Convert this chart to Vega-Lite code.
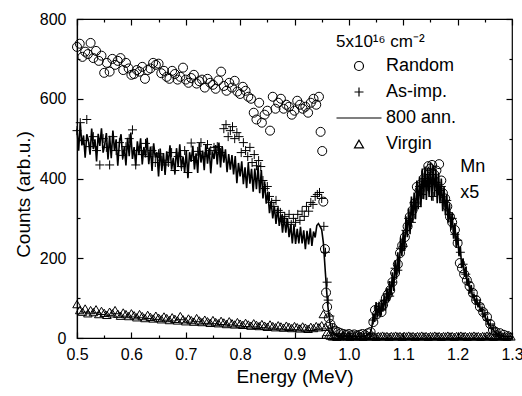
{
  "$schema": "https://vega.github.io/schema/vega-lite/v6.json",
  "width": 435,
  "height": 319,
  "autosize": "none",
  "padding": {"left": 77, "top": 19, "right": 10, "bottom": 58},
  "config": {
    "font": "Liberation Sans",
    "view": {"stroke": "black", "strokeWidth": 1.2},
    "axis": {"domainColor": "black", "domainWidth": 1.2, "tickColor": "black", "tickWidth": 1.2, "labelColor": "black", "titleColor": "black", "labelFontSize": 16, "titleFontSize": 19, "titleFontWeight": "normal", "grid": false}
  },
  "datasets": {
    "rnd": [{"e":0.500,"c":730},{"e":0.505,"c":738},{"e":0.510,"c":705},{"e":0.515,"c":718},{"e":0.520,"c":712},{"e":0.525,"c":740},{"e":0.530,"c":702},{"e":0.535,"c":720},{"e":0.540,"c":695},{"e":0.545,"c":708},{"e":0.550,"c":665},{"e":0.555,"c":690},{"e":0.560,"c":668},{"e":0.565,"c":700},{"e":0.570,"c":685},{"e":0.575,"c":695},{"e":0.580,"c":702},{"e":0.585,"c":672},{"e":0.590,"c":690},{"e":0.595,"c":676},{"e":0.600,"c":660},{"e":0.605,"c":662},{"e":0.610,"c":672},{"e":0.615,"c":668},{"e":0.620,"c":680},{"e":0.625,"c":650},{"e":0.630,"c":672},{"e":0.635,"c":676},{"e":0.640,"c":690},{"e":0.645,"c":685},{"e":0.650,"c":688},{"e":0.655,"c":664},{"e":0.660,"c":670},{"e":0.665,"c":655},{"e":0.670,"c":650},{"e":0.675,"c":670},{"e":0.680,"c":662},{"e":0.685,"c":648},{"e":0.690,"c":655},{"e":0.695,"c":678},{"e":0.700,"c":648},{"e":0.705,"c":640},{"e":0.710,"c":652},{"e":0.715,"c":660},{"e":0.720,"c":638},{"e":0.725,"c":644},{"e":0.730,"c":648},{"e":0.735,"c":628},{"e":0.740,"c":650},{"e":0.745,"c":640},{"e":0.750,"c":635},{"e":0.755,"c":625},{"e":0.760,"c":646},{"e":0.765,"c":668},{"e":0.770,"c":632},{"e":0.775,"c":620},{"e":0.780,"c":640},{"e":0.785,"c":628},{"e":0.790,"c":645},{"e":0.795,"c":618},{"e":0.800,"c":612},{"e":0.805,"c":630},{"e":0.810,"c":620},{"e":0.815,"c":605},{"e":0.820,"c":600},{"e":0.825,"c":565},{"e":0.830,"c":548},{"e":0.835,"c":590},{"e":0.840,"c":540},{"e":0.845,"c":560},{"e":0.850,"c":570},{"e":0.855,"c":520},{"e":0.860,"c":605},{"e":0.865,"c":575},{"e":0.870,"c":590},{"e":0.875,"c":600},{"e":0.880,"c":575},{"e":0.885,"c":585},{"e":0.890,"c":580},{"e":0.895,"c":560},{"e":0.900,"c":570},{"e":0.905,"c":595},{"e":0.910,"c":585},{"e":0.915,"c":575},{"e":0.920,"c":580},{"e":0.925,"c":565},{"e":0.930,"c":590},{"e":0.935,"c":600},{"e":0.940,"c":585},{"e":0.945,"c":605},{"e":0.948,"c":517},{"e":0.951,"c":469},{"e":0.953,"c":342},{"e":0.956,"c":223},{"e":0.958,"c":114},{"e":0.960,"c":78},{"e":0.963,"c":50},{"e":0.966,"c":35},{"e":0.970,"c":25},{"e":0.975,"c":18},{"e":0.980,"c":15},{"e":0.985,"c":12},{"e":0.990,"c":10},{"e":0.995,"c":8},{"e":1.000,"c":10},{"e":1.005,"c":7},{"e":1.010,"c":9},{"e":1.015,"c":6},{"e":1.020,"c":8},{"e":1.025,"c":10},{"e":1.030,"c":7},{"e":1.035,"c":12},{"e":1.040,"c":15},{"e":1.045,"c":40},{"e":1.048,"c":70},{"e":1.052,"c":60},{"e":1.055,"c":75},{"e":1.060,"c":65},{"e":1.063,"c":83},{"e":1.068,"c":100},{"e":1.072,"c":110},{"e":1.076,"c":120},{"e":1.080,"c":140},{"e":1.085,"c":163},{"e":1.090,"c":185},{"e":1.094,"c":213},{"e":1.098,"c":232},{"e":1.103,"c":253},{"e":1.108,"c":280},{"e":1.112,"c":304},{"e":1.117,"c":320},{"e":1.121,"c":338},{"e":1.125,"c":379},{"e":1.130,"c":370},{"e":1.134,"c":388},{"e":1.138,"c":400},{"e":1.142,"c":415},{"e":1.146,"c":431},{"e":1.150,"c":425},{"e":1.153,"c":434},{"e":1.157,"c":410},{"e":1.161,"c":420},{"e":1.166,"c":436},{"e":1.170,"c":395},{"e":1.173,"c":363},{"e":1.177,"c":350},{"e":1.181,"c":330},{"e":1.186,"c":304},{"e":1.190,"c":290},{"e":1.195,"c":271},{"e":1.200,"c":238},{"e":1.204,"c":188},{"e":1.208,"c":175},{"e":1.212,"c":160},{"e":1.217,"c":145},{"e":1.222,"c":130},{"e":1.228,"c":113},{"e":1.234,"c":95},{"e":1.241,"c":78},{"e":1.247,"c":65},{"e":1.254,"c":53},{"e":1.260,"c":35},{"e":1.265,"c":20},{"e":1.270,"c":15},{"e":1.278,"c":12},{"e":1.285,"c":8},{"e":1.292,"c":5}],
    "asi": [{"e":0.500,"c":520},{"e":0.506,"c":540},{"e":0.512,"c":495},{"e":0.518,"c":548},{"e":0.524,"c":480},{"e":0.530,"c":505},{"e":0.536,"c":470},{"e":0.542,"c":434},{"e":0.548,"c":500},{"e":0.554,"c":478},{"e":0.560,"c":434},{"e":0.566,"c":505},{"e":0.572,"c":470},{"e":0.578,"c":490},{"e":0.584,"c":458},{"e":0.590,"c":480},{"e":0.596,"c":500},{"e":0.602,"c":522},{"e":0.608,"c":434},{"e":0.614,"c":470},{"e":0.620,"c":460},{"e":0.626,"c":488},{"e":0.632,"c":455},{"e":0.638,"c":470},{"e":0.644,"c":440},{"e":0.650,"c":462},{"e":0.656,"c":446},{"e":0.662,"c":434},{"e":0.668,"c":440},{"e":0.674,"c":465},{"e":0.680,"c":420},{"e":0.686,"c":455},{"e":0.692,"c":430},{"e":0.698,"c":470},{"e":0.704,"c":415},{"e":0.710,"c":489},{"e":0.716,"c":445},{"e":0.722,"c":468},{"e":0.728,"c":490},{"e":0.734,"c":455},{"e":0.740,"c":485},{"e":0.746,"c":470},{"e":0.752,"c":478},{"e":0.758,"c":480},{"e":0.764,"c":465},{"e":0.770,"c":525},{"e":0.774,"c":535},{"e":0.778,"c":505},{"e":0.782,"c":520},{"e":0.786,"c":530},{"e":0.790,"c":500},{"e":0.794,"c":515},{"e":0.798,"c":505},{"e":0.802,"c":465},{"e":0.806,"c":490},{"e":0.810,"c":470},{"e":0.814,"c":455},{"e":0.818,"c":478},{"e":0.822,"c":440},{"e":0.826,"c":460},{"e":0.830,"c":432},{"e":0.834,"c":445},{"e":0.838,"c":430},{"e":0.842,"c":395},{"e":0.846,"c":375},{"e":0.850,"c":380},{"e":0.854,"c":355},{"e":0.858,"c":340},{"e":0.862,"c":330},{"e":0.866,"c":345},{"e":0.870,"c":320},{"e":0.874,"c":315},{"e":0.878,"c":300},{"e":0.882,"c":305},{"e":0.886,"c":290},{"e":0.890,"c":310},{"e":0.894,"c":285},{"e":0.898,"c":300},{"e":0.902,"c":290},{"e":0.906,"c":310},{"e":0.910,"c":295},{"e":0.914,"c":318},{"e":0.918,"c":305},{"e":0.922,"c":330},{"e":0.926,"c":318},{"e":0.930,"c":340},{"e":0.934,"c":335},{"e":0.938,"c":355},{"e":0.942,"c":360},{"e":0.946,"c":365},{"e":0.950,"c":350},{"e":0.954,"c":280},{"e":0.957,"c":215},{"e":0.960,"c":140},{"e":0.962,"c":95},{"e":0.965,"c":55},{"e":0.970,"c":25},{"e":0.980,"c":10},{"e":0.990,"c":5},{"e":1.000,"c":5},{"e":1.020,"c":4},{"e":1.040,"c":10},{"e":1.045,"c":45},{"e":1.050,"c":60},{"e":1.055,"c":80},{"e":1.060,"c":70},{"e":1.065,"c":95},{"e":1.070,"c":110},{"e":1.075,"c":105},{"e":1.080,"c":140},{"e":1.085,"c":175},{"e":1.090,"c":170},{"e":1.095,"c":225},{"e":1.100,"c":230},{"e":1.105,"c":270},{"e":1.110,"c":300},{"e":1.115,"c":290},{"e":1.120,"c":340},{"e":1.125,"c":330},{"e":1.130,"c":380},{"e":1.135,"c":360},{"e":1.140,"c":400},{"e":1.145,"c":380},{"e":1.150,"c":410},{"e":1.155,"c":355},{"e":1.160,"c":390},{"e":1.165,"c":370},{"e":1.170,"c":380},{"e":1.175,"c":340},{"e":1.180,"c":345},{"e":1.185,"c":310},{"e":1.190,"c":300},{"e":1.195,"c":260},{"e":1.200,"c":245},{"e":1.205,"c":215},{"e":1.210,"c":185},{"e":1.215,"c":160},{"e":1.220,"c":140},{"e":1.225,"c":120},{"e":1.230,"c":105},{"e":1.235,"c":95},{"e":1.240,"c":85},{"e":1.245,"c":70},{"e":1.250,"c":60},{"e":1.255,"c":45},{"e":1.260,"c":35},{"e":1.265,"c":25},{"e":1.270,"c":15},{"e":1.275,"c":8},{"e":1.280,"c":5}],
    "ann": [{"e":0.500,"c":525},{"e":0.503,"c":470},{"e":0.506,"c":539},{"e":0.509,"c":483},{"e":0.512,"c":508},{"e":0.515,"c":452},{"e":0.518,"c":511},{"e":0.521,"c":496},{"e":0.524,"c":460},{"e":0.527,"c":525},{"e":0.530,"c":474},{"e":0.533,"c":498},{"e":0.536,"c":443},{"e":0.539,"c":512},{"e":0.542,"c":482},{"e":0.545,"c":526},{"e":0.548,"c":465},{"e":0.551,"c":485},{"e":0.554,"c":514},{"e":0.557,"c":448},{"e":0.560,"c":507},{"e":0.563,"c":451},{"e":0.566,"c":520},{"e":0.569,"c":469},{"e":0.572,"c":498},{"e":0.575,"c":432},{"e":0.578,"c":491},{"e":0.581,"c":511},{"e":0.584,"c":450},{"e":0.587,"c":479},{"e":0.590,"c":433},{"e":0.593,"c":502},{"e":0.596,"c":456},{"e":0.599,"c":515},{"e":0.602,"c":449},{"e":0.605,"c":479},{"e":0.608,"c":433},{"e":0.611,"c":493},{"e":0.614,"c":462},{"e":0.617,"c":501},{"e":0.620,"c":435},{"e":0.623,"c":479},{"e":0.626,"c":453},{"e":0.629,"c":502},{"e":0.632,"c":436},{"e":0.635,"c":480},{"e":0.638,"c":419},{"e":0.641,"c":488},{"e":0.644,"c":452},{"e":0.647,"c":466},{"e":0.650,"c":405},{"e":0.653,"c":475},{"e":0.656,"c":419},{"e":0.659,"c":464},{"e":0.662,"c":409},{"e":0.665,"c":468},{"e":0.668,"c":438},{"e":0.671,"c":483},{"e":0.674,"c":422},{"e":0.677,"c":452},{"e":0.680,"c":412},{"e":0.683,"c":476},{"e":0.686,"c":431},{"e":0.689,"c":486},{"e":0.692,"c":425},{"e":0.695,"c":455},{"e":0.698,"c":415},{"e":0.701,"c":470},{"e":0.704,"c":401},{"e":0.707,"c":466},{"e":0.710,"c":442},{"e":0.713,"c":482},{"e":0.716,"c":423},{"e":0.719,"c":463},{"e":0.722,"c":414},{"e":0.725,"c":489},{"e":0.728,"c":440},{"e":0.731,"c":470},{"e":0.734,"c":421},{"e":0.737,"c":486},{"e":0.740,"c":437},{"e":0.743,"c":477},{"e":0.746,"c":413},{"e":0.749,"c":468},{"e":0.752,"c":449},{"e":0.755,"c":484},{"e":0.758,"c":435},{"e":0.761,"c":490},{"e":0.764,"c":428},{"e":0.767,"c":481},{"e":0.770,"c":440},{"e":0.773,"c":473},{"e":0.776,"c":416},{"e":0.779,"c":461},{"e":0.782,"c":422},{"e":0.785,"c":459},{"e":0.788,"c":410},{"e":0.791,"c":456},{"e":0.794,"c":388},{"e":0.797,"c":439},{"e":0.800,"c":405},{"e":0.803,"c":443},{"e":0.806,"c":386},{"e":0.809,"c":428},{"e":0.812,"c":376},{"e":0.815,"c":439},{"e":0.818,"c":387},{"e":0.821,"c":424},{"e":0.824,"c":367},{"e":0.827,"c":425},{"e":0.830,"c":373},{"e":0.833,"c":430},{"e":0.836,"c":363},{"e":0.839,"c":421},{"e":0.842,"c":350},{"e":0.845,"c":393},{"e":0.848,"c":337},{"e":0.851,"c":367},{"e":0.854,"c":313},{"e":0.857,"c":344},{"e":0.860,"c":300},{"e":0.863,"c":331},{"e":0.866,"c":286},{"e":0.869,"c":327},{"e":0.872,"c":281},{"e":0.875,"c":310},{"e":0.878,"c":264},{"e":0.881,"c":304},{"e":0.884,"c":264},{"e":0.887,"c":301},{"e":0.890,"c":253},{"e":0.893,"c":285},{"e":0.896,"c":237},{"e":0.899,"c":283},{"e":0.902,"c":236},{"e":0.905,"c":274},{"e":0.908,"c":237},{"e":0.911,"c":279},{"e":0.914,"c":237},{"e":0.917,"c":270},{"e":0.920,"c":223},{"e":0.923,"c":269},{"e":0.926,"c":235},{"e":0.929,"c":275},{"e":0.932,"c":231},{"e":0.935,"c":267},{"e":0.938,"c":252},{"e":0.941,"c":282},{"e":0.944,"c":287},{"e":0.947,"c":280},{"e":0.950,"c":272},{"e":0.953,"c":240},{"e":0.955,"c":200},{"e":0.957,"c":160},{"e":0.959,"c":120},{"e":0.961,"c":85},{"e":0.963,"c":60},{"e":0.965,"c":40},{"e":0.968,"c":22},{"e":0.971,"c":12},{"e":0.975,"c":8},{"e":0.980,"c":5},{"e":0.985,"c":6},{"e":0.990,"c":4},{"e":0.995,"c":5},{"e":1.000,"c":3},{"e":1.010,"c":4},{"e":1.020,"c":3},{"e":1.030,"c":5},{"e":1.035,"c":8},{"e":1.040,"c":15},{"e":1.0425,"c":30},{"e":1.045,"c":60},{"e":1.0475,"c":40},{"e":1.050,"c":90},{"e":1.0525,"c":51},{"e":1.055,"c":87},{"e":1.0575,"c":53},{"e":1.060,"c":95},{"e":1.0625,"c":66},{"e":1.065,"c":107},{"e":1.0675,"c":69},{"e":1.070,"c":125},{"e":1.0725,"c":89},{"e":1.075,"c":143},{"e":1.0775,"c":106},{"e":1.080,"c":165},{"e":1.0825,"c":118},{"e":1.085,"c":195},{"e":1.0875,"c":148},{"e":1.090,"c":215},{"e":1.0925,"c":164},{"e":1.095,"c":252},{"e":1.0975,"c":206},{"e":1.100,"c":270},{"e":1.1025,"c":218},{"e":1.105,"c":305},{"e":1.1075,"c":253},{"e":1.110,"c":325},{"e":1.1125,"c":260},{"e":1.115,"c":355},{"e":1.1175,"c":290},{"e":1.120,"c":365},{"e":1.1225,"c":298},{"e":1.125,"c":395},{"e":1.1275,"c":323},{"e":1.130,"c":405},{"e":1.1325,"c":328},{"e":1.135,"c":425},{"e":1.1375,"c":348},{"e":1.140,"c":430},{"e":1.1425,"c":346},{"e":1.145,"c":427},{"e":1.1475,"c":354},{"e":1.150,"c":440},{"e":1.1525,"c":344},{"e":1.155,"c":433},{"e":1.1575,"c":356},{"e":1.160,"c":425},{"e":1.1625,"c":338},{"e":1.165,"c":415},{"e":1.1675,"c":338},{"e":1.170,"c":400},{"e":1.1725,"c":318},{"e":1.175,"c":380},{"e":1.1775,"c":308},{"e":1.180,"c":360},{"e":1.1825,"c":289},{"e":1.185,"c":338},{"e":1.1875,"c":271},{"e":1.190,"c":315},{"e":1.1925,"c":249},{"e":1.195,"c":288},{"e":1.1975,"c":226},{"e":1.200,"c":265},{"e":1.2025,"c":205},{"e":1.205,"c":230},{"e":1.2075,"c":175},{"e":1.210,"c":200},{"e":1.2125,"c":154},{"e":1.215,"c":178},{"e":1.2175,"c":131},{"e":1.220,"c":150},{"e":1.2225,"c":111},{"e":1.225,"c":133},{"e":1.2275,"c":99},{"e":1.230,"c":110},{"e":1.2325,"c":85},{"e":1.235,"c":100},{"e":1.2375,"c":77},{"e":1.240,"c":88},{"e":1.2425,"c":66},{"e":1.245,"c":76},{"e":1.2475,"c":55},{"e":1.250,"c":61},{"e":1.2525,"c":43},{"e":1.255,"c":49},{"e":1.2575,"c":31},{"e":1.260,"c":35},{"e":1.2625,"c":20},{"e":1.265,"c":25},{"e":1.2675,"c":16},{"e":1.270,"c":12},{"e":1.275,"c":8},{"e":1.280,"c":5},{"e":1.290,"c":3},{"e":1.300,"c":3}],
    "vir": [{"e":0.500,"c":85},{"e":0.505,"c":70},{"e":0.510,"c":66},{"e":0.515,"c":74},{"e":0.520,"c":62},{"e":0.525,"c":70},{"e":0.530,"c":65},{"e":0.535,"c":72},{"e":0.540,"c":60},{"e":0.545,"c":68},{"e":0.550,"c":63},{"e":0.555,"c":58},{"e":0.560,"c":66},{"e":0.565,"c":62},{"e":0.570,"c":70},{"e":0.575,"c":61},{"e":0.580,"c":56},{"e":0.585,"c":64},{"e":0.590,"c":60},{"e":0.595,"c":55},{"e":0.600,"c":62},{"e":0.605,"c":57},{"e":0.610,"c":52},{"e":0.615,"c":60},{"e":0.620,"c":55},{"e":0.625,"c":50},{"e":0.630,"c":58},{"e":0.635,"c":53},{"e":0.640,"c":49},{"e":0.645,"c":56},{"e":0.650,"c":51},{"e":0.655,"c":47},{"e":0.660,"c":54},{"e":0.665,"c":50},{"e":0.670,"c":45},{"e":0.675,"c":52},{"e":0.680,"c":48},{"e":0.685,"c":44},{"e":0.690,"c":55},{"e":0.695,"c":47},{"e":0.700,"c":42},{"e":0.705,"c":49},{"e":0.710,"c":45},{"e":0.715,"c":41},{"e":0.720,"c":50},{"e":0.725,"c":44},{"e":0.730,"c":40},{"e":0.735,"c":46},{"e":0.740,"c":42},{"e":0.745,"c":38},{"e":0.750,"c":45},{"e":0.755,"c":40},{"e":0.760,"c":37},{"e":0.765,"c":43},{"e":0.770,"c":39},{"e":0.775,"c":35},{"e":0.780,"c":42},{"e":0.785,"c":37},{"e":0.790,"c":34},{"e":0.795,"c":40},{"e":0.800,"c":36},{"e":0.805,"c":33},{"e":0.810,"c":38},{"e":0.815,"c":34},{"e":0.820,"c":31},{"e":0.825,"c":37},{"e":0.830,"c":33},{"e":0.835,"c":30},{"e":0.840,"c":35},{"e":0.845,"c":31},{"e":0.850,"c":28},{"e":0.855,"c":34},{"e":0.860,"c":30},{"e":0.865,"c":27},{"e":0.870,"c":32},{"e":0.875,"c":29},{"e":0.880,"c":26},{"e":0.885,"c":31},{"e":0.890,"c":28},{"e":0.895,"c":25},{"e":0.900,"c":30},{"e":0.905,"c":27},{"e":0.910,"c":24},{"e":0.915,"c":29},{"e":0.920,"c":26},{"e":0.925,"c":23},{"e":0.930,"c":28},{"e":0.935,"c":25},{"e":0.940,"c":30},{"e":0.945,"c":27},{"e":0.950,"c":32},{"e":0.953,"c":60},{"e":0.957,"c":28},{"e":0.960,"c":15},{"e":0.963,"c":8},{"e":0.966,"c":6},{"e":0.970,"c":4},{"e":0.974,"c":5},{"e":0.978,"c":3},{"e":0.982,"c":5},{"e":0.986,"c":4},{"e":0.990,"c":6},{"e":0.994,"c":4},{"e":0.998,"c":5},{"e":1.002,"c":3},{"e":1.006,"c":5},{"e":1.010,"c":4},{"e":1.014,"c":6},{"e":1.018,"c":4},{"e":1.022,"c":5},{"e":1.026,"c":3},{"e":1.030,"c":5},{"e":1.034,"c":4},{"e":1.038,"c":6},{"e":1.042,"c":4},{"e":1.046,"c":5},{"e":1.050,"c":3},{"e":1.054,"c":5},{"e":1.058,"c":4},{"e":1.062,"c":6},{"e":1.066,"c":4},{"e":1.070,"c":5},{"e":1.074,"c":3},{"e":1.078,"c":5},{"e":1.082,"c":4},{"e":1.086,"c":6},{"e":1.090,"c":4},{"e":1.094,"c":5},{"e":1.098,"c":3},{"e":1.102,"c":5},{"e":1.106,"c":4},{"e":1.110,"c":6},{"e":1.114,"c":4},{"e":1.118,"c":5},{"e":1.122,"c":3},{"e":1.126,"c":5},{"e":1.130,"c":4},{"e":1.134,"c":6},{"e":1.138,"c":4},{"e":1.142,"c":5},{"e":1.146,"c":3},{"e":1.150,"c":5},{"e":1.154,"c":4},{"e":1.158,"c":6},{"e":1.162,"c":4},{"e":1.166,"c":5},{"e":1.170,"c":3},{"e":1.174,"c":5},{"e":1.178,"c":4},{"e":1.182,"c":6},{"e":1.186,"c":4},{"e":1.190,"c":5},{"e":1.194,"c":3},{"e":1.198,"c":5},{"e":1.202,"c":4},{"e":1.206,"c":6},{"e":1.210,"c":4},{"e":1.214,"c":5},{"e":1.218,"c":3},{"e":1.222,"c":5},{"e":1.226,"c":4},{"e":1.230,"c":6},{"e":1.234,"c":4},{"e":1.238,"c":5},{"e":1.242,"c":3},{"e":1.246,"c":5},{"e":1.250,"c":4},{"e":1.254,"c":6},{"e":1.258,"c":4},{"e":1.262,"c":5},{"e":1.266,"c":3},{"e":1.270,"c":5},{"e":1.274,"c":4},{"e":1.278,"c":6},{"e":1.282,"c":4},{"e":1.286,"c":5},{"e":1.290,"c":3},{"e":1.294,"c":5},{"e":1.298,"c":4}],
    "txt": [{"e":1.205,"c":429,"t":"Mn"},{"e":1.205,"c":364,"t":"x5"}]
  },
  "layer": [
    {
      "data": {"name": "rnd"},
      "mark": {"type": "point", "filled": false, "stroke": "black", "strokeWidth": 1, "size": 81, "opacity": 1},
      "encoding": {
        "x": {"field": "e", "type": "quantitative", "scale": {"domain": [0.5, 1.3], "nice": false, "zero": false},
          "axis": {"orient": "bottom", "title": "Energy (MeV)", "values": [0.5,0.55,0.6,0.65,0.7,0.75,0.8,0.85,0.9,0.95,1,1.05,1.1,1.15,1.2,1.25,1.3],
            "labelExpr": "abs(datum.value*10-round(datum.value*10))<0.01 ? format(datum.value,'.1f') : ''",
            "tickSize": {"condition": {"test": "abs(datum.value*10-round(datum.value*10))<0.01", "value": -6}, "value": -3},
            "labelPadding": 14, "labelFlush": false, "titleY": 38, "titleBaseline": "middle"}},
        "y": {"field": "c", "type": "quantitative", "scale": {"domain": [0, 800], "nice": false},
          "axis": {"orient": "left", "title": "Counts (arb.u.)", "values": [0,100,200,300,400,500,600,700,800],
            "labelExpr": "datum.value % 200 == 0 ? datum.label : ''",
            "tickSize": {"condition": {"test": "datum.value % 200 == 0", "value": -6}, "value": -3},
            "labelPadding": 17, "titleX": -54, "titleY": 175, "titleBaseline": "middle", "titleAlign": "center"}},
        "shape": {"datum": "Random", "scale": {"domain": ["Random", "As-imp.", "800 ann.", "Virgin"], "range": ["circle", "M-1,0H1M0,-1V1", "M-5,0H5", "triangle-up"]},
          "legend": {"orient": "none", "legendX": 259, "legendY": 15, "title": "5x10¹⁶ cm⁻²", "titleFontSize": 17, "titleFontWeight": "normal", "titleColor": "black", "titlePadding": 6,
            "labelFontSize": 18, "labelColor": "black", "symbolSize": 81, "symbolStrokeColor": "black", "symbolFillColor": "transparent", "symbolStrokeWidth": 1.2, "symbolOffset": 14, "labelOffset": 18, "rowPadding": 8, "padding": 0}}
      }
    },
    {
      "data": {"name": "asi"},
      "mark": {"type": "point", "filled": false, "stroke": "black", "strokeWidth": 1, "size": 81, "opacity": 1},
      "encoding": {
        "x": {"field": "e", "type": "quantitative",
          "axis": {"orient": "top", "title": null, "labels": false, "domain": false, "values": [0.5,0.55,0.6,0.65,0.7,0.75,0.8,0.85,0.9,0.95,1,1.05,1.1,1.15,1.2,1.25,1.3],
            "tickSize": {"condition": {"test": "abs(datum.value*10-round(datum.value*10))<0.01", "value": -6}, "value": -3}}},
        "y": {"field": "c", "type": "quantitative",
          "axis": {"orient": "right", "title": null, "labels": false, "domain": false, "values": [0,100,200,300,400,500,600,700,800],
            "tickSize": {"condition": {"test": "datum.value % 200 == 0", "value": -6}, "value": -3}}},
        "shape": {"datum": "As-imp."}
      }
    },
    {
      "data": {"name": "vir"},
      "mark": {"type": "point", "filled": false, "stroke": "black", "strokeWidth": 1, "size": 72, "opacity": 1},
      "encoding": {
        "x": {"field": "e", "type": "quantitative", "axis": null},
        "y": {"field": "c", "type": "quantitative", "axis": null},
        "shape": {"datum": "Virgin"}
      }
    },
    {
      "data": {"name": "ann"},
      "mark": {"type": "line", "stroke": "black", "strokeWidth": 1.6},
      "encoding": {
        "x": {"field": "e", "type": "quantitative", "axis": null},
        "y": {"field": "c", "type": "quantitative", "axis": null}
      }
    },
    {
      "data": {"name": "txt"},
      "mark": {"type": "text", "align": "left", "baseline": "middle", "fontSize": 18, "color": "black"},
      "encoding": {
        "x": {"field": "e", "type": "quantitative", "axis": null},
        "y": {"field": "c", "type": "quantitative", "axis": null},
        "text": {"field": "t"}
      }
    }
  ],
  "resolve": {"axis": {"x": "independent", "y": "independent"}}
}
